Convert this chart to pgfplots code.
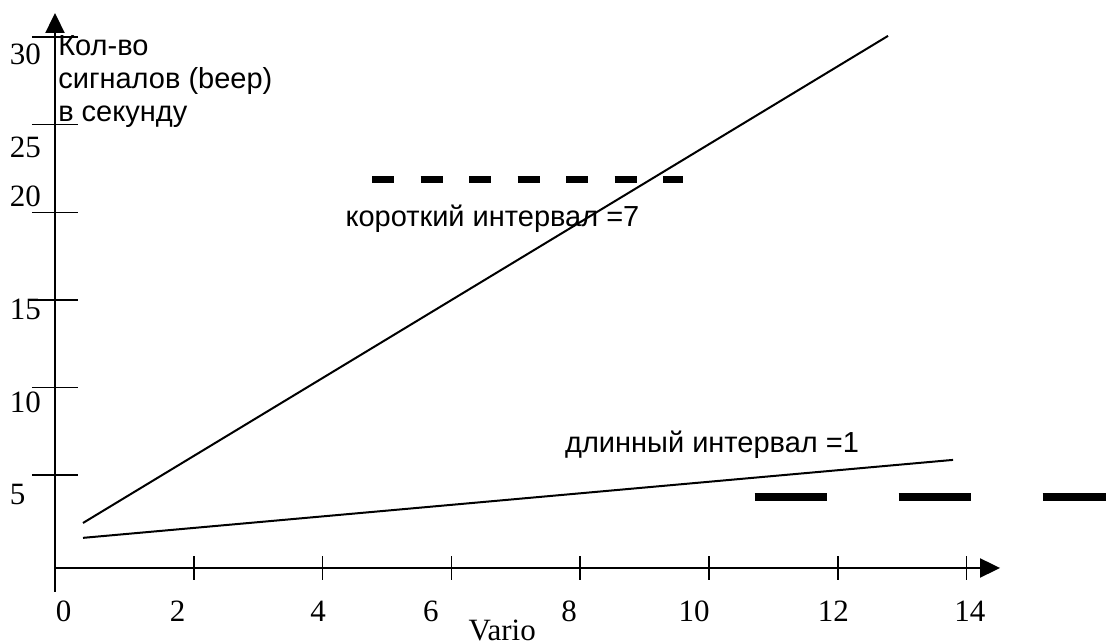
\documentclass[border=0pt]{standalone}
\usepackage{fontspec}
\setmainfont{Liberation Serif}
\newfontfamily\arialfont{Liberation Sans}
\usepackage{pgfplots}
\pgfplotsset{compat=1.18}
\usetikzlibrary{arrows.meta}

\begin{document}
\begin{tikzpicture}
\begin{axis}[
    x=32.2pt, y=8.76pt,
    xmin=-0.155, xmax=14.52,
    ymin=-0.30, ymax=31.38,
    axis lines=left,
    axis line style={line width=1pt, -{Triangle[length=10pt,width=9.5pt]}},
    xtick={2,4,...,14},
    ytick={5,10,...,30},
    xticklabels={}, yticklabels={},
    tick align=center,
    major tick length=12pt,
    ytick style={/pgfplots/major tick length=23pt},
    tick style={black, line width=0.75pt},
    clip=false,
]
% short interval line and long interval line
\addplot[black, line width=1pt] coordinates {(0.28,2.27) (12.78,30.07)};
\addplot[black, line width=1pt] coordinates {(0.28,1.42) (13.79,5.87)};
% beep patterns
\addplot[black, line width=3.5pt, dash pattern=on 11pt off 13.25pt] coordinates {(4.77,21.85) (9.60,21.85)};
\addplot[black, line width=4pt, dash pattern=on 36pt off 36pt] coordinates {(10.71,3.76) (16.16,3.76)};

% y axis runs a little below the x axis
\draw[line width=1pt] (axis cs:-0.155,-0.30) -- (axis cs:-0.155,-1.67);

% tick labels, placed as in the drawing
\begin{scope}[every node/.style={inner sep=0pt, font=\fontsize{15.5}{18}\selectfont}]
\node[anchor=base] at (axis cs:-0.02,-3.38) {0};
\node[anchor=base] at (axis cs:1.75,-3.38) {2};
\node[anchor=base] at (axis cs:3.93,-3.38) {4};
\node[anchor=base] at (axis cs:5.68,-3.38) {6};
\node[anchor=base] at (axis cs:7.83,-3.38) {8};
\node[anchor=base] at (axis cs:9.77,-3.38) {10};
\node[anchor=base] at (axis cs:11.93,-3.38) {12};
\node[anchor=base] at (axis cs:14.05,-3.38) {14};
\node[anchor=base] at (axis cs:6.79,-4.41) {Vario};
\node[anchor=base west] at (axis cs:-0.86,28.41) {30};
\node[anchor=base west] at (axis cs:-0.86,23.15) {25};
\node[anchor=base west] at (axis cs:-0.86,20.31) {20};
\node[anchor=base west] at (axis cs:-0.86,13.86) {15};
\node[anchor=base west] at (axis cs:-0.86,8.55) {10};
\node[anchor=base west] at (axis cs:-0.86,3.30) {5};
\end{scope}

\begin{scope}[every node/.style={inner sep=0pt, anchor=base west, font=\arialfont\fontsize{14.5}{17}\selectfont}]
\node at (axis cs:-0.11,28.93) {Кол-во};
\node at (axis cs:-0.11,27.04) {сигналов (beep)};
\node at (axis cs:-0.11,25.16) {в секунду};
\node at (axis cs:4.35,19.17) {короткий интервал =7};
\node at (axis cs:7.76,6.32) {длинный интервал =1};
\end{scope}

\coordinate (bbsw) at (axis cs:-1.009,-4.635);
\coordinate (bbne) at (axis cs:16.165,32.12);
\end{axis}
\pgfresetboundingbox
\path[use as bounding box] (bbsw) rectangle (bbne);
\end{tikzpicture}
\end{document}
